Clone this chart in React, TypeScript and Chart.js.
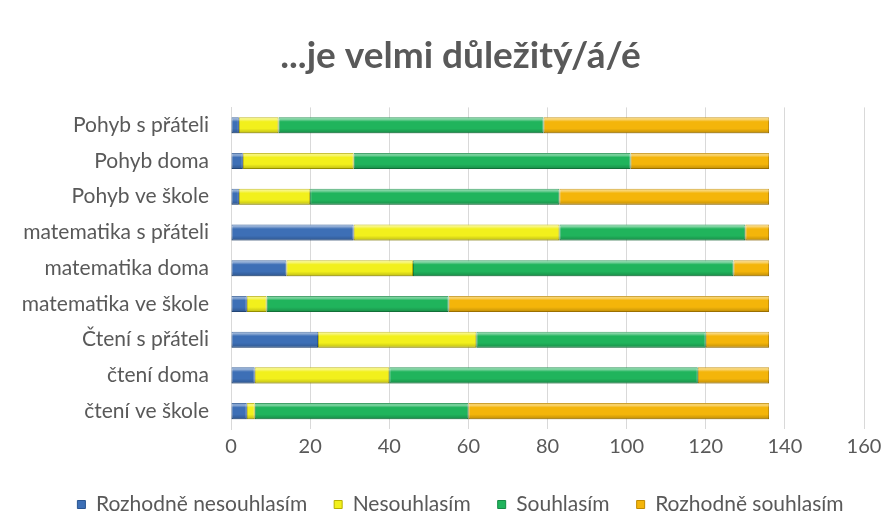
import React, { useEffect, useRef } from "react";
import { Chart, registerables } from "chart.js";

Chart.register(...registerables);

const titleText = "...je velmi důležitý/á/é";
const categories = [
  "Pohyb s přáteli",
  "Pohyb doma",
  "Pohyb ve škole",
  "matematika s přáteli",
  "matematika doma",
  "matematika ve škole",
  "Čtení s přáteli",
  "čtení doma",
  "čtení ve škole",
];
const seriesNames = ["Rozhodně nesouhlasím", "Nesouhlasím", "Souhlasím", "Rozhodně souhlasím"];
const rozhodneNesouhlasim = [2, 3, 2, 31, 14, 4, 22, 6, 4];
const nesouhlasim = [10, 28, 18, 52, 32, 5, 40, 34, 2];
const souhlasim = [67, 70, 63, 47, 81, 46, 58, 78, 54];
const rozhodneSouhlasim = [57, 35, 53, 6, 9, 81, 16, 18, 76];
const xTicks = [0, 20, 40, 60, 80, 100, 120, 140, 160];

const fills = ["#3d6fb6", "#f2f01c", "#20b45c", "#f4b50a"];
const borders = ["#2a5591", "#b8b000", "#168a45", "#c08a00"];

const bevelPlugin = {
  id: "bevel",
  afterDatasetsDraw(chart: any) {
    const ctx = chart.ctx;
    chart.data.datasets.forEach((_: any, di: number) => {
      const meta = chart.getDatasetMeta(di);
      meta.data.forEach((el: any) => {
        const left = Math.min(el.x, el.base);
        const right = Math.max(el.x, el.base);
        const top = el.y - el.height / 2;
        const bottom = el.y + el.height / 2;
        const g = ctx.createLinearGradient(0, top, 0, bottom);
        g.addColorStop(0, "rgba(255,255,255,0.15)");
        g.addColorStop(0.12, "rgba(255,255,255,0.45)");
        g.addColorStop(0.28, "rgba(255,255,255,0.0)");
        g.addColorStop(0.7, "rgba(0,0,0,0.0)");
        g.addColorStop(1, "rgba(0,0,0,0.22)");
        ctx.save();
        ctx.fillStyle = g;
        ctx.fillRect(left, top, right - left, bottom - top);
        ctx.restore();
      });
    });
  },
};

export default function App() {
  const ref = useRef<HTMLCanvasElement | null>(null);
  useEffect(() => {
    if (!ref.current) return;
    const data = [rozhodneNesouhlasim, nesouhlasim, souhlasim, rozhodneSouhlasim];
    const chart = new Chart(ref.current, {
      type: "bar",
      data: {
        labels: categories,
        datasets: seriesNames.map((name, i) => ({
          label: name,
          data: data[i],
          backgroundColor: fills[i],
          borderColor: borders[i],
          borderWidth: 1,
          borderSkipped: false,
          barPercentage: 0.45,
          categoryPercentage: 1,
        })),
      },
      options: {
        indexAxis: "y",
        animation: false,
        responsive: true,
        maintainAspectRatio: false,
        layout: { padding: { left: 21, right: -14, top: 0, bottom: -8 } },
        scales: {
          x: {
            stacked: true,
            min: 0,
            max: 160,
            ticks: {
              stepSize: 20,
              color: "#595959",
              font: { family: "Lato", size: 20 },
              padding: 6,
              callback: (v: any) => (xTicks.includes(Number(v)) ? String(v) : ""),
            },
            grid: { color: "#d9d9d9", drawTicks: false, lineWidth: 1 },
            border: { display: false },
            afterFit: (s: any) => {
              s.height = 38;
              s.paddingRight = 22;
            },
          },
          y: {
            stacked: true,
            ticks: {
              color: "#595959",
              font: { family: "Lato", size: 21 },
              padding: 22,
            },
            grid: { display: false, drawTicks: false },
            border: { display: true, color: "#d9d9d9" },
            afterFit: (s: any) => {
              s.width = 210;
            },
          },
        },
        plugins: {
          title: {
            display: true,
            text: titleText,
            color: "#595959",
            font: { family: "Lato", size: 37, weight: "bold" },
            padding: { top: 34, bottom: 29 },
          },
          legend: {
            position: "bottom",
            labels: {
              color: "#595959",
              font: { family: "Lato", size: 21 },
              boxWidth: 8,
              boxHeight: 8,
              padding: 27,
            },
          },
          tooltip: { enabled: false },
        },
      },
      plugins: [bevelPlugin],
    });
    return () => chart.destroy();
  }, []);
  return (
    <div style={{ position: "fixed", left: 0, top: 0, width: 886, height: 517, background: "#fff" }}>
      <canvas ref={ref} />
    </div>
  );
}
